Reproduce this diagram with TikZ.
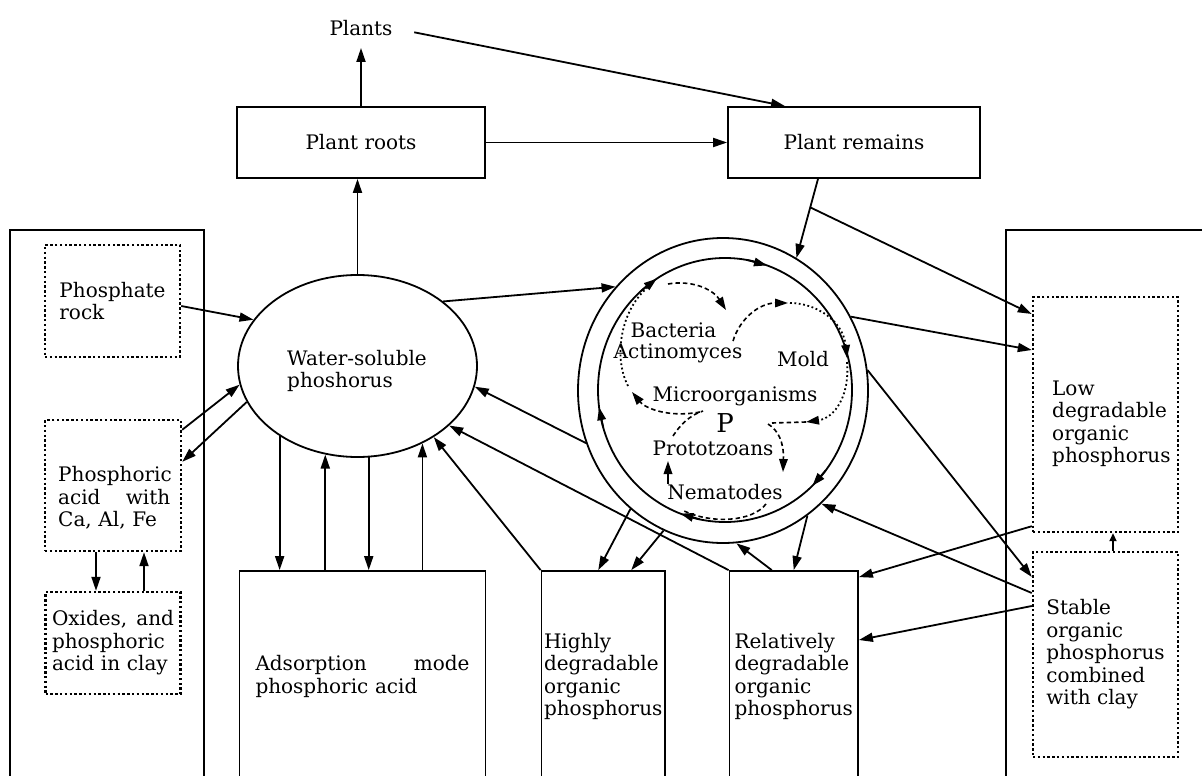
\documentclass[tikz,border=0pt]{standalone}
\usepackage{fontspec}
\setmainfont{DejaVu Serif}
\usetikzlibrary{arrows.meta,calc,shapes.geometric}
\begin{document}
\begin{tikzpicture}[x=1pt,y=-1pt,
  arr/.style={line width=1.8pt,-{Triangle[length=14pt,width=9pt]}},
  sarr/.style={line width=1.8pt,-{Triangle[length=8pt,width=7pt]}},
  ln/.style={line width=1.8pt},
  sbox/.style={draw,line width=1.8pt,inner sep=0pt},
  dbox/.style={draw,line width=2.4pt,dash pattern=on 2.4pt off 2.4pt,inner sep=0pt},
  txt/.style={font=\fontsize{20}{22.5}\selectfont,inner sep=0pt,align=left},
  dsh/.style={line width=1.6pt,dash pattern=on 4.5pt off 3pt},
  dts/.style={line width=1.8pt,dash pattern=on 1.8pt off 2.6pt},
  tip/.style={-{Triangle[length=13pt,width=8.5pt]}}]
\useasboundingbox (0,0) rectangle (1202,776);

% top row
\node[txt] (plants) at (361,28) {Plants};
\node[sbox,txt,minimum width=248pt,minimum height=71pt] (roots) at (361,142.5) {Plant roots};
\node[sbox,txt,minimum width=252pt,minimum height=71pt] (remains) at (854,142.5) {Plant remains};

% central shapes
\node[draw,ellipse,line width=1.8pt,minimum width=239pt,minimum height=182pt,inner sep=0pt] (water) at (357.5,366) {};
\node[txt] (watert) at (357,371) {Water-soluble\\phoshorus};
\node[draw,ellipse,line width=1.8pt,minimum width=290pt,minimum height=305pt,inner sep=0pt] (outer) at (723,390.5) {};
\node[draw,ellipse,line width=1.8pt,minimum width=254pt,minimum height=264pt,inner sep=0pt] (inner) at (725,390) {};

% panels
\draw[ln] (10,776) -- (10,230) -- (204,230) -- (204,776);
\draw[ln] (1006,776) -- (1006,230) -- (1202,230);

% left boxes
\node[dbox,txt,minimum width=135pt,minimum height=112pt] (rock) at (112.5,301) {Phosphate\\rock};
\node[dbox,minimum width=136pt,minimum height=131pt] (acid) at (113,485.5) {};
\node[txt,text width=112pt,anchor=west] (acidt) at (58,498) {Phosphoric\\acid\hfill with\\Ca, Al, Fe};
\node[dbox,txt,text width=122pt,minimum width=135pt,minimum height=102pt] (oxide) at (113,643) {Oxides,\hfill and\\phosphoric\\acid in clay};

% right boxes
\node[dbox,minimum width=145pt,minimum height=235pt] (low) at (1105.5,414.5) {};
\node[txt,anchor=west] (lowt) at (1052,424) {Low\\degradable\\organic\\phosphorus};
\node[dbox,txt,minimum width=145pt,minimum height=205pt] (stable) at (1105.5,654.5) {Stable\\organic\\phosphorus\\combined\\with clay};

% bottom boxes
\node[sbox,txt,text width=214pt,minimum width=246pt,minimum height=211pt] (ads) at (362.5,676.5) {Adsorption\hfill mode\\phosphoric acid};
\node[sbox,txt,minimum width=123.5pt,minimum height=211pt] (high) at (603.25,676.5) {Highly\\degradable\\organic\\phosphorus};
\node[sbox,txt,minimum width=128.5pt,minimum height=211pt] (rel) at (793.75,676.5) {Relatively\\degradable\\organic\\phosphorus};

% labels inside the circle
\node[txt] (bact) at (673.5,330) {Bacteria};
\node[txt] (actino) at (678,353) {Actinomyces};
\node[txt] (mold) at (803,359) {Mold};
\node[txt] (micro) at (735,396) {Microorganisms};
\node[txt,font=\fontsize{26}{28}\selectfont] (pp) at (725,423) {P};
\node[txt] (proto) at (713,448) {Prototzoans};
\node[txt] (nema) at (725,492) {Nematodes};

% arrows on the inner ring (clockwise)
\foreach \a in {289.3,46.5,110.5,172.5,237.5}
  \draw[ln,tip] ({725+127*cos(\a-9)},{390+132*sin(\a-9)}) -- ({725+127*cos(\a)},{390+132*sin(\a)});

% dashed cycle inside the circle
\draw[dsh,tip] (700,412) .. controls (668,418) and (645,408) .. (632,392);
\draw[dts] (628,386) .. controls (612,355) and (622,305) .. (652,284);
\draw[dsh,tip] (668,284) .. controls (690,280) and (712,288) .. (726,310);
\draw[dsh,tip] (733,341) .. controls (740,318) and (760,303) .. (788,303);
\draw[dts,tip] (790,303) .. controls (815,303) and (843,320) .. (847,358);
\draw[dts,tip] (847,362) .. controls (850,395) and (835,418) .. (806,422);
\draw[dsh] (806,422) -- (772,423);
\draw[dsh,tip] (768,424) .. controls (778,430) and (784,442) .. (783,472);
\draw[dsh] (766,504) .. controls (752,522) and (712,524) .. (684,511);
\draw[ln,tip] (668,484) -- (668,461);
\draw[dsh] (673,436) .. controls (680,425) and (690,415) .. (703,411);

% top connectors
\draw[arr,shorten >=12pt] (roots.north) -- (plants.south);
\draw[arr,shorten <=22pt] (plants.east) -- ([xshift=-69pt]remains.north);
\draw[arr] (roots.east) -- (remains.west);
\draw[arr] (water.north) -- (water.north |- roots.south);

% left connectors
\draw[arr] ([yshift=-5pt]rock.east) -- (water.156);
\draw[arr] ([yshift=-11pt]acid.north east) -- (water.189);
\draw[arr] (water.198) -- ([yshift=-43pt]acid.north east);
\draw[arr] ([xshift=-17pt]acid.south) -- ([xshift=-17pt]oxide.north);
\draw[arr] ([xshift=31pt]oxide.north) -- ([xshift=31pt]acid.south);

% water <-> adsorption
\draw[arr] (water.222) -- (water.222 |- ads.north);
\draw[arr] (water.250 |- ads.north) -- (water.250);
\draw[arr] (water.277) -- (water.277 |- ads.north);
\draw[arr] (water.310 |- ads.north) -- (water.310);

% bottom connectors
\draw[arr] (high.north west) -- (water.-43);
\draw[arr] (rel.north west) -- (water.-33);
\draw[arr] (outer.201) -- (water.-10);
\draw[arr] (water.37) -- (outer.136);
\draw[arr] (outer.232) -- ([xshift=-5pt]high.north);
\draw[arr] (outer.247) -- ([xshift=28pt]high.north);
\draw[arr] ([xshift=-22pt]rel.north) -- (outer.-85);
\draw[arr] (outer.-56) -- (rel.north);

% right connectors
\coordinate (rs) at ([xshift=-36pt]remains.south);
\draw[arr] (rs) -- (outer.61);
\coordinate (br) at ($(rs)!0.36!(outer.61)$);
\draw[arr] (br) -- ([yshift=100.5pt]low.west);
\draw[arr] (outer.30) -- ([yshift=64.5pt]low.west);
\draw[arr] (outer.8) -- ([yshift=77.5pt]stable.west);
\draw[arr] ([yshift=61.5pt]stable.west) -- (outer.-49);
\draw[arr] ([yshift=48.5pt]stable.west) -- ([yshift=36.5pt]rel.east);
\draw[arr] ([yshift=7pt]low.south west) -- ([yshift=-7pt]rel.north east);
\draw[sarr] ([xshift=7.5pt]stable.north) -- ([xshift=7.5pt]low.south);
\end{tikzpicture}
\end{document}
